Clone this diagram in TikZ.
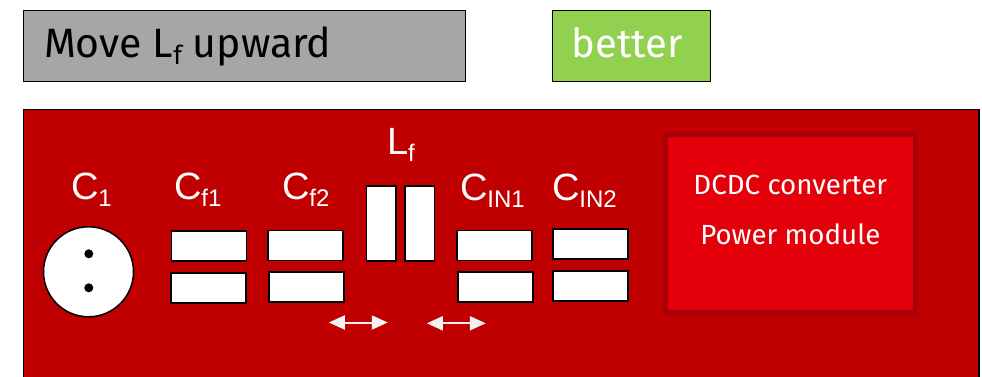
\documentclass[tikz,border=0pt]{standalone}
\usepackage{fontspec}
\setmainfont{Fira Sans}
\newfontfamily\arialf{Liberation Sans}
\definecolor{pcb}{HTML}{C00000}
\definecolor{modfill}{HTML}{E3000B}
\definecolor{modline}{HTML}{A80008}
\definecolor{greybox}{HTML}{A6A6A6}
\definecolor{greenbox}{HTML}{92D050}
\definecolor{arrowc}{HTML}{F2F2F2}
\newcommand{\pcblabel}[2]{{\arialf\fontsize{38}{40}\selectfont #1\raisebox{-7pt}{\fontsize{24}{28}\selectfont #2}}}
\tikzset{
  capbox/.style={draw=black,fill=white,line width=1.5pt,inner sep=0pt,minimum width=75pt,minimum height=30pt},
  indbox/.style={draw=black,fill=white,line width=1.5pt,inner sep=0pt,minimum width=29.5pt,minimum height=75pt},
  pcblab/.style={text=white,anchor=base west,inner sep=0pt},
  dblarrow/.style={draw=arrowc,line width=2pt,{Triangle[length=16pt,width=14pt]}-{Triangle[length=16pt,width=14pt]}},
  modtext/.style={text=white,anchor=base,inner sep=0pt,font=\fontsize{27.7}{30}\selectfont},
  titlebox/.style={draw=black,line width=1.5pt,inner sep=0pt,outer sep=0pt,anchor=north west}
}
\usetikzlibrary{arrows.meta}
\begin{document}
\begin{tikzpicture}[x=1pt,y=-1pt]
\useasboundingbox (0.2,0.2) rectangle (982.2,377.2);
\clip (0.2,0.2) rectangle (982.2,377.2);
\node[titlebox,fill=greybox,minimum width=442pt,minimum height=71pt] (move) at (23.5,10.5) {};
\node[anchor=base west,inner sep=0pt,font=\fontsize{41}{44}\selectfont] (movet) at (44,58) {Move L\raisebox{-7pt}{\fontsize{26}{28}\selectfont f} upward};
\node[titlebox,fill=greenbox,minimum width=158pt,minimum height=71pt] (better) at (552.5,10.5) {};
\node[anchor=base,inner sep=0pt,text=white,font=\fontsize{40}{44}\selectfont] (bettert) at (627.5,58) {better};
\path[draw=black,fill=pcb,line width=1.5pt] (23.5,109.5) rectangle (979,400);
\node[draw=modline,fill=modfill,line width=5pt,inner sep=0pt,minimum width=250pt,minimum height=178.5pt] (module) at (790.5,223.5) {};
\node[modtext] (m1) at (790.5,195) {DCDC converter};
\node[modtext] (m2) at (790.5,245) {Power module};
\node[draw=black,fill=white,line width=1.5pt,circle,inner sep=0pt,minimum size=90pt] (c1) at (88.7,272) {};
\node[circle,fill=black,inner sep=0pt,minimum size=9pt] (d1) at (89,254) {};
\node[circle,fill=black,inner sep=0pt,minimum size=9pt] (d2) at (89,288) {};
\node[capbox] (cf1a) at (209,246) {};
\node[capbox] (cf1b) at (208.5,288) {};
\node[capbox] (cf2a) at (305.5,245.5) {};
\node[capbox] (cf2b) at (306.5,287) {};
\node[indbox] (l1) at (381.5,223.5) {};
\node[indbox] (l2) at (420,223.5) {};
\node[capbox] (ci1a) at (494.7,245.5) {};
\node[capbox] (ci1b) at (495.7,287) {};
\node[capbox] (ci2a) at (590.5,244) {};
\node[capbox] (ci2b) at (590.5,286) {};
\node[pcblab] (lc1) at (71,200) {\pcblabel{C}{1}};
\node[pcblab] (lcf1) at (174,200) {\pcblabel{C}{f1}};
\node[pcblab] (lcf2) at (282,200) {\pcblabel{C}{f2}};
\node[pcblab] (ll) at (387,155) {\pcblabel{L}{f}};
\node[pcblab] (lci1) at (460,201) {\pcblabel{C}{IN1}};
\node[pcblab] (lci2) at (552,201) {\pcblabel{C}{IN2}};
\coordinate (a1l) at (329,322.7);
\coordinate (a1r) at (388,322.7);
\coordinate (a2l) at (427,323.5);
\coordinate (a2r) at (486,323.5);
\draw[dblarrow] (a1l) -- (a1r);
\draw[dblarrow] (a2l) -- (a2r);
\end{tikzpicture}
\end{document}
